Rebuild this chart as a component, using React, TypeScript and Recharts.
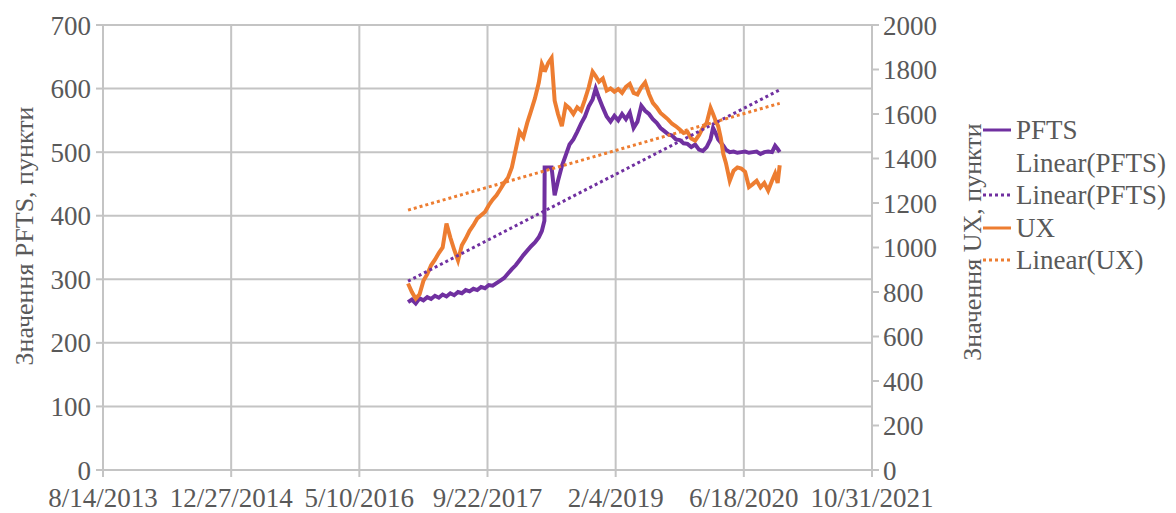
import { LineChart, Line, XAxis, YAxis, CartesianGrid } from "recharts";

// Excel serial dates (days since 12/30/1899)
const dates = [
  42690, 42705, 42720, 42735, 42750, 42765, 42780, 42795, 42810, 42825,
  42840, 42855, 42870, 42885, 42900, 42915, 42930, 42945, 42960, 42975,
  42990, 43005, 43020, 43035, 43050, 43065, 43080, 43095, 43110, 43125,
  43140, 43155, 43170, 43185, 43200, 43212, 43222, 43223, 43237, 43250,
  43262, 43275, 43290, 43305, 43320, 43335, 43350, 43365, 43380, 43395,
  43410, 43422, 43435, 43450, 43465, 43480, 43495, 43510, 43525, 43540,
  43555, 43570, 43585, 43600, 43615, 43630, 43645, 43660, 43675, 43690,
  43705, 43720, 43735, 43750, 43765, 43780, 43795, 43810, 43825, 43840,
  43855, 43870, 43880, 43890, 43900, 43910, 43920, 43930, 43945, 43960,
  43975, 43990, 44005, 44020, 44035, 44050, 44065, 44080, 44095, 44110,
  44122, 44132, 44140,
];

const pfts = [
  264, 268, 262, 270, 267, 272, 269, 274, 271, 276,
  273, 278, 275, 280, 278, 283, 281, 285, 283, 288,
  286, 291, 290, 294, 298, 302, 309, 316, 322, 330,
  338, 345, 352, 358, 366, 376, 392, 476, 476, 476,
  432, 455, 478, 495, 512, 520, 532, 545, 556, 572,
  583, 600, 585, 570, 556, 548, 557, 550, 560, 552,
  562, 538, 548, 573, 565, 560, 552, 546, 538, 533,
  528, 526, 520, 519, 514, 513, 508, 512, 504, 502,
  508, 520, 538, 530, 520, 515, 510, 504, 500, 501,
  499, 500, 501, 499, 500, 501, 497, 500, 501, 500,
  510, 505, 500,
];

const ux = [
  838, 800, 770, 790, 850, 880, 920, 945, 975, 1000,
  1108, 1045, 990, 942, 1010, 1040, 1075, 1100, 1130, 1145,
  1160, 1190, 1215, 1235, 1262, 1290, 1314, 1360, 1440, 1520,
  1495, 1560, 1614, 1670, 1740, 1825, 1800, 1790, 1830, 1852,
  1660, 1600, 1545, 1640, 1625, 1600, 1630, 1615, 1665, 1720,
  1790, 1770, 1745, 1760, 1705, 1715, 1700, 1712, 1695, 1722,
  1735, 1695, 1688, 1720, 1742, 1690, 1650, 1630, 1605, 1590,
  1575, 1556, 1545, 1530, 1515, 1520, 1490, 1480, 1505, 1538,
  1560, 1628, 1600, 1570, 1545, 1493, 1420, 1380, 1300, 1345,
  1360, 1355, 1340, 1272, 1285, 1300, 1270, 1290, 1256, 1300,
  1332, 1290, 1370,
];

// trendline end points
const trendDates = [42690, 44140];
const pftsTrend = [297, 598];
const uxTrend = [1168, 1648];

const xTicks = [41500, 42000, 42500, 43000, 43500, 44000, 44500];
const leftTicks = [0, 100, 200, 300, 400, 500, 600, 700];
const rightTicks = [0, 200, 400, 600, 800, 1000, 1200, 1400, 1600, 1800, 2000];

const data = dates.map((d, i) => ({ date: d, pfts: pfts[i], ux: ux[i] }));
const pftsTrendData = trendDates.map((d, i) => ({ date: d, pftsTrend: pftsTrend[i] }));
const uxTrendData = trendDates.map((d, i) => ({ date: d, uxTrend: uxTrend[i] }));

const PURPLE = "#7030A0";
const ORANGE = "#ED7D31";
const GRID = "#C4C4C4";
const TEXT = "#595959";
const FONT = "Liberation Serif, DejaVu Serif, serif";

const fmtDate = (serial: number) => {
  const d = new Date(Date.UTC(1899, 11, 30) + serial * 86400000);
  return `${d.getUTCMonth() + 1}/${d.getUTCDate()}/${d.getUTCFullYear()}`;
};

const tickStyle = { fill: TEXT, fontSize: 27, fontFamily: FONT };

const legendItems = [
  { label: "PFTS", color: PURPLE, dash: false, show: true },
  { label: "Linear(PFTS)", color: PURPLE, dash: false, show: false },
  { label: "Linear(PFTS)", color: PURPLE, dash: true, show: true },
  { label: "UX", color: ORANGE, dash: false, show: true },
  { label: "Linear(UX)", color: ORANGE, dash: true, show: true },
];

export default function App() {
  return (
    <div style={{ position: "absolute", left: 0, top: 0, width: 1176, height: 513, background: "#fff" }}>
      <LineChart
        width={1176}
        height={513}
        data={data}
        margin={{ top: 25, right: 0, bottom: 0, left: 0 }}
      >
        <CartesianGrid yAxisId="left" stroke={GRID} strokeWidth={2} />
        <XAxis
          dataKey="date"
          type="number"
          domain={[41500, 44500]}
          ticks={xTicks}
          tickFormatter={fmtDate}
          height={43}
          tick={tickStyle}
          tickSize={7}
          tickMargin={11}
          stroke={GRID}
          strokeWidth={2}
          interval={0}
        />
        <YAxis
          yAxisId="left"
          orientation="left"
          domain={[0, 700]}
          ticks={leftTicks}
          width={103}
          tick={tickStyle}
          tickSize={7}
          tickMargin={5}
          stroke={GRID}
          strokeWidth={2}
          interval={0}
        />
        <YAxis
          yAxisId="right"
          orientation="right"
          domain={[0, 2000]}
          ticks={rightTicks}
          width={304}
          tick={tickStyle}
          tickSize={7}
          tickMargin={4}
          stroke={GRID}
          strokeWidth={2}
          interval={0}
        />
        <Line
          yAxisId="left"
          dataKey="pfts"
          stroke={PURPLE}
          strokeWidth={4}
          dot={false}
          type="linear"
          isAnimationActive={false}
        />
        <Line
          yAxisId="right"
          dataKey="ux"
          stroke={ORANGE}
          strokeWidth={4}
          dot={false}
          type="linear"
          isAnimationActive={false}
        />
        <Line
          yAxisId="left"
          data={pftsTrendData}
          dataKey="pftsTrend"
          stroke={PURPLE}
          strokeWidth={3}
          strokeDasharray="3 3"
          dot={false}
          type="linear"
          isAnimationActive={false}
        />
        <Line
          yAxisId="right"
          data={uxTrendData}
          dataKey="uxTrend"
          stroke={ORANGE}
          strokeWidth={3}
          strokeDasharray="3 3"
          dot={false}
          type="linear"
          isAnimationActive={false}
        />
        <text
          x={24}
          y={236}
          transform="rotate(-90 24 236)"
          textAnchor="middle"
          dominantBaseline="central"
          fill={TEXT}
          fontSize={26}
          fontFamily={FONT}
        >
          Значення PFTS, пункти
        </text>
        <text
          x={972}
          y={242}
          transform="rotate(-90 972 242)"
          textAnchor="middle"
          dominantBaseline="central"
          fill={TEXT}
          fontSize={26}
          fontFamily={FONT}
        >
          Значення UX, пункти
        </text>
      </LineChart>
      <div
        style={{
          position: "absolute",
          left: 983,
          top: 114,
          fontFamily: FONT,
          fontSize: 27,
          color: TEXT,
          lineHeight: "32.5px",
        }}
      >
        {legendItems.map((it, i) => (
          <div key={i} style={{ display: "flex", alignItems: "center", height: 32.5 }}>
            <svg width={28} height={6} style={{ marginRight: 5 }}>
              {it.show && (
                <line
                  x1={0}
                  y1={3}
                  x2={28}
                  y2={3}
                  stroke={it.color}
                  strokeWidth={3}
                  strokeDasharray={it.dash ? "3 3" : undefined}
                />
              )}
            </svg>
            <span style={{ whiteSpace: "nowrap" }}>{it.label}</span>
          </div>
        ))}
      </div>
    </div>
  );
}
